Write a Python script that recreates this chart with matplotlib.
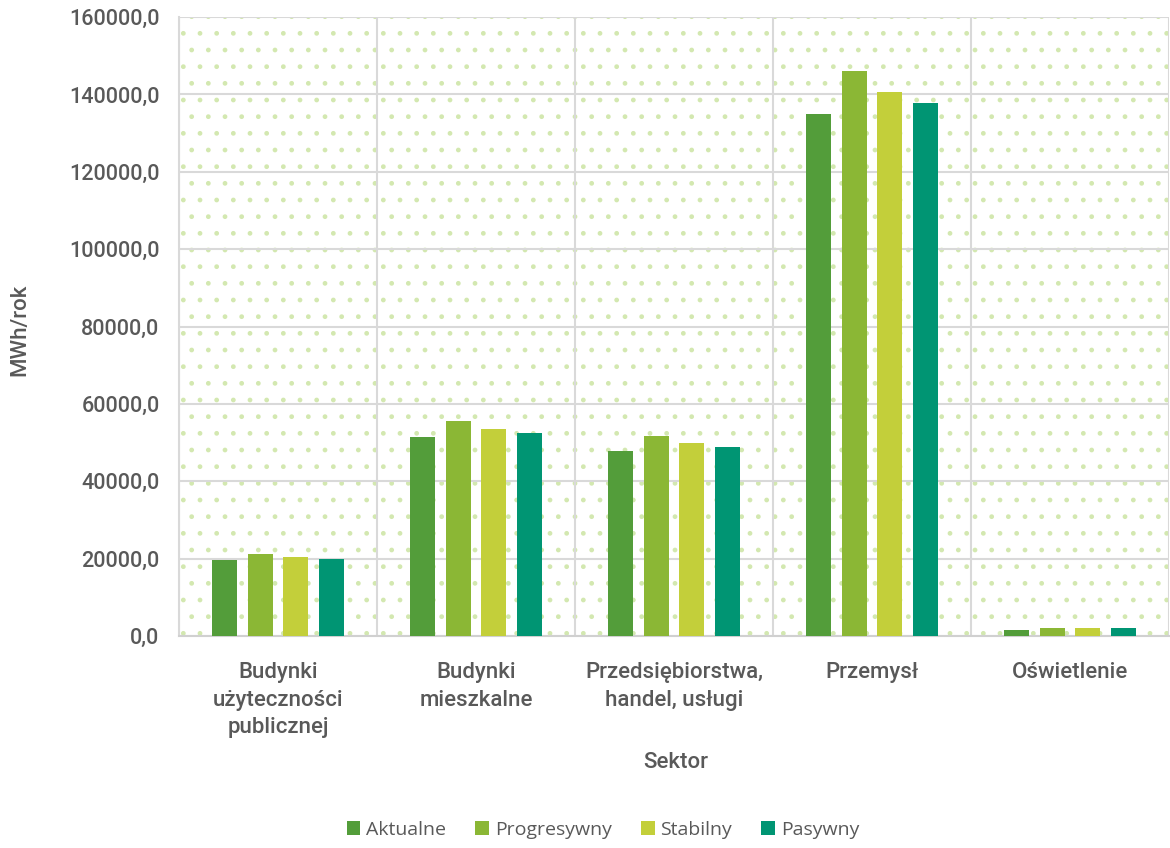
import matplotlib
matplotlib.use("Agg")
import matplotlib.pyplot as plt
import numpy as np
from matplotlib.ticker import FuncFormatter, FixedLocator

categories = ["Budynki\nużyteczności\npublicznej", "Budynki\nmieszkalne",
              "Przedsiębiorstwa,\nhandel, usługi", "Przemysł", "Oświetlenie"]
series_names = ["Aktualne", "Progresywny", "Stabilny", "Pasywny"]
aktualne = [19600, 51400, 47800, 134900, 1550]
progresywny = [21200, 55600, 51700, 146100, 2000]
stabilny = [20300, 53500, 49900, 140500, 1950]
pasywny = [19900, 52500, 48800, 137700, 2050]
colors = ["#539D3A", "#8BB735", "#C3CF3A", "#009573"]
yticks = [0, 20000, 40000, 60000, 80000, 100000, 120000, 140000, 160000]

dot_color = "#D3E8B0"
plt.rcParams["hatch.color"] = dot_color
plt.rcParams["hatch.linewidth"] = 1.0

fig = plt.figure(figsize=(11.7, 8.48), dpi=100)
ax = fig.add_axes([179/1170, 1-636/848, (1169-179)/1170, (636-17)/848])

text_color = "#595959"
font = "Roboto"
fw = 500

ax.patch.set_facecolor("white")
ax.patch.set_hatch(".")
ax.patch.set_edgecolor(dot_color)

x = np.arange(len(categories))
slot = 36/198.5
width = 25/198.5
data = [aktualne, progresywny, stabilny, pasywny]
for i, (name, vals, c) in enumerate(zip(series_names, data, colors)):
    ax.bar(x + (i - 1.5)*slot, vals, width=width, color=c, label=name, zorder=3)

ax.set_xlim(-0.5, len(categories)-0.5)
ax.set_ylim(0, 160000)
ax.yaxis.set_major_locator(FixedLocator(yticks))
ax.yaxis.set_major_formatter(FuncFormatter(lambda v, p: f"{v:.1f}".replace(".", ",")))
ax.set_xticks(x)
ax.set_xticklabels(categories, fontsize=16, color=text_color, family=font, fontweight=fw,
                   linespacing=1.4, va="top")
ax.set_xticks(np.arange(-0.5, len(categories), 1.0), minor=True)
ax.grid(axis="y", which="major", color="#D9D9D9", linewidth=1.5, zorder=1)
ax.grid(axis="x", which="minor", color="#D9D9D9", linewidth=1.5, zorder=1)
ax.set_axisbelow(True)
ax.tick_params(axis="both", which="both", length=0)
ax.tick_params(axis="x", pad=19)
ax.tick_params(axis="y", pad=14)
for lab in ax.get_yticklabels():
    lab.set_fontsize(15.5)
    lab.set_color(text_color)
    lab.set_family(font)
    lab.set_fontweight(fw)
for s in ["top", "right"]:
    ax.spines[s].set_visible(False)
ax.spines["left"].set_color("#D9D9D9")
ax.spines["left"].set_linewidth(1.5)
ax.spines["bottom"].set_color("#D0D0D0")
ax.spines["bottom"].set_linewidth(1.5)

fig.text(20/1170, 1-330/848, "MWh/rok", rotation=90, ha="center", va="center",
         fontsize=16, color=text_color, family=font, fontweight=fw)
fig.text(676/1170, 1-763/848, "Sektor", ha="center", va="center",
         fontsize=16, color=text_color, family=font, fontweight=fw)

leg = fig.legend(loc="center", bbox_to_anchor=(603/1170, 1-830/848), ncol=4, frameon=False,
                 prop={"family": "Open Sans", "size": 14}, handlelength=0.7, handleheight=0.7,
                 handletextpad=0.3, columnspacing=1.5)
for t in leg.get_texts():
    t.set_color(text_color)

fig.savefig("out.png", dpi=100)
